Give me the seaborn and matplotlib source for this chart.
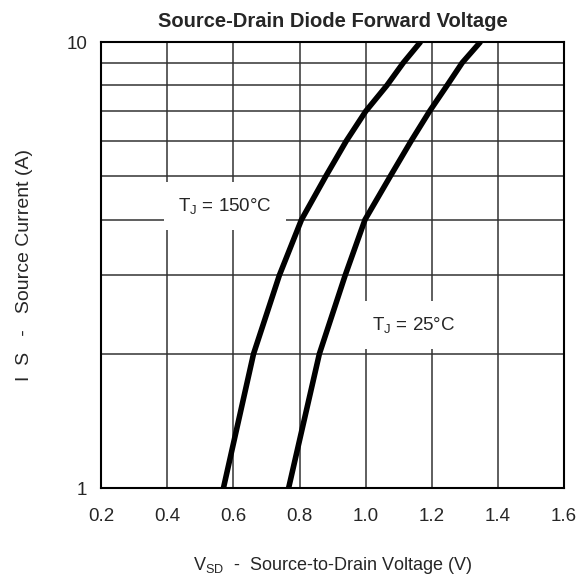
import matplotlib
matplotlib.use("Agg")
import matplotlib.pyplot as plt
import matplotlib.ticker as mticker
import seaborn as sns
import pandas as pd

# Source current levels (A) read at each grid line
current = [1, 2, 3, 4, 5, 6, 7, 8, 9, 10]
# Forward voltage (V) for each junction temperature
vsd_150 = [0.570, 0.661, 0.739, 0.806, 0.879, 0.941, 1.000, 1.064, 1.114, 1.165]
vsd_25 = [0.767, 0.860, 0.938, 0.998, 1.074, 1.137, 1.193, 1.246, 1.292, 1.346]

x_ticks = [0.2, 0.4, 0.6, 0.8, 1.0, 1.2, 1.4, 1.6]
x_labels = ["0.2", "0.4", "0.6", "0.8", "1.0", "1.2", "1.4", "1.6"]

df = pd.concat([
    pd.DataFrame({"Vsd": vsd_150, "Is": current, "Tj": "150"}),
    pd.DataFrame({"Vsd": vsd_25, "Is": current, "Tj": "25"}),
])

sns.set_style("white")
plt.rcParams["font.family"] = ["Liberation Sans", "DejaVu Sans"]
plt.rcParams["mathtext.fontset"] = "custom"
plt.rcParams["mathtext.rm"] = "Liberation Sans"
plt.rcParams["mathtext.it"] = "Liberation Sans"

fig = plt.figure(figsize=(5.84, 5.79), dpi=100)
ax = fig.add_axes([0.173, 0.157, 0.793, 0.770])

# grid drawn first so the curves and labels sit over it
ax.set_yscale("log")
ax.set_xlim(0.2, 1.6)
ax.set_ylim(1, 10)
ax.set_xticks(x_ticks)
ax.set_xticklabels(x_labels)
ax.yaxis.set_major_locator(mticker.FixedLocator([1, 10]))
ax.yaxis.set_major_formatter(mticker.FixedFormatter(["1", "10"]))
ax.yaxis.set_minor_locator(mticker.FixedLocator(current[1:-1]))
ax.yaxis.set_minor_formatter(mticker.NullFormatter())
ax.grid(True, which="both", axis="y", color="#333333", linewidth=1.1)
ax.grid(True, which="major", axis="x", color="#333333", linewidth=1.1)
ax.set_axisbelow(True)
ax.tick_params(axis="x", which="both", length=0, labelsize=13.5, pad=14)
ax.tick_params(axis="y", which="both", length=0, labelsize=13.5, pad=10)

sns.lineplot(data=df, x="Vsd", y="Is", hue="Tj", sort=False, estimator=None,
             palette=["black", "black"], linewidth=4, legend=False, ax=ax)

for s in ax.spines.values():
    s.set_color("black")
    s.set_linewidth(1.5)

box = dict(boxstyle="square,pad=0.75", facecolor="white", edgecolor="none")
ax.text(0.575, 4.3, "T$_\\mathregular{J}$ = 150°C", fontsize=13.5, ha="center", va="center", bbox=box)
ax.text(1.145, 2.32, "T$_\\mathregular{J}$ = 25°C", fontsize=13.5, ha="center", va="center", bbox=box)

ax.set_title("Source-Drain Diode Forward Voltage", fontsize=14.5, fontweight="bold", pad=11)
ax.set_xlabel("V$_\\mathregular{SD}$  -  Source-to-Drain Voltage (V)", fontsize=13, labelpad=22)
ax.set_ylabel("I  S   -   Source Current (A)", fontsize=14, labelpad=24)

fig.savefig("out.png", dpi=100)
